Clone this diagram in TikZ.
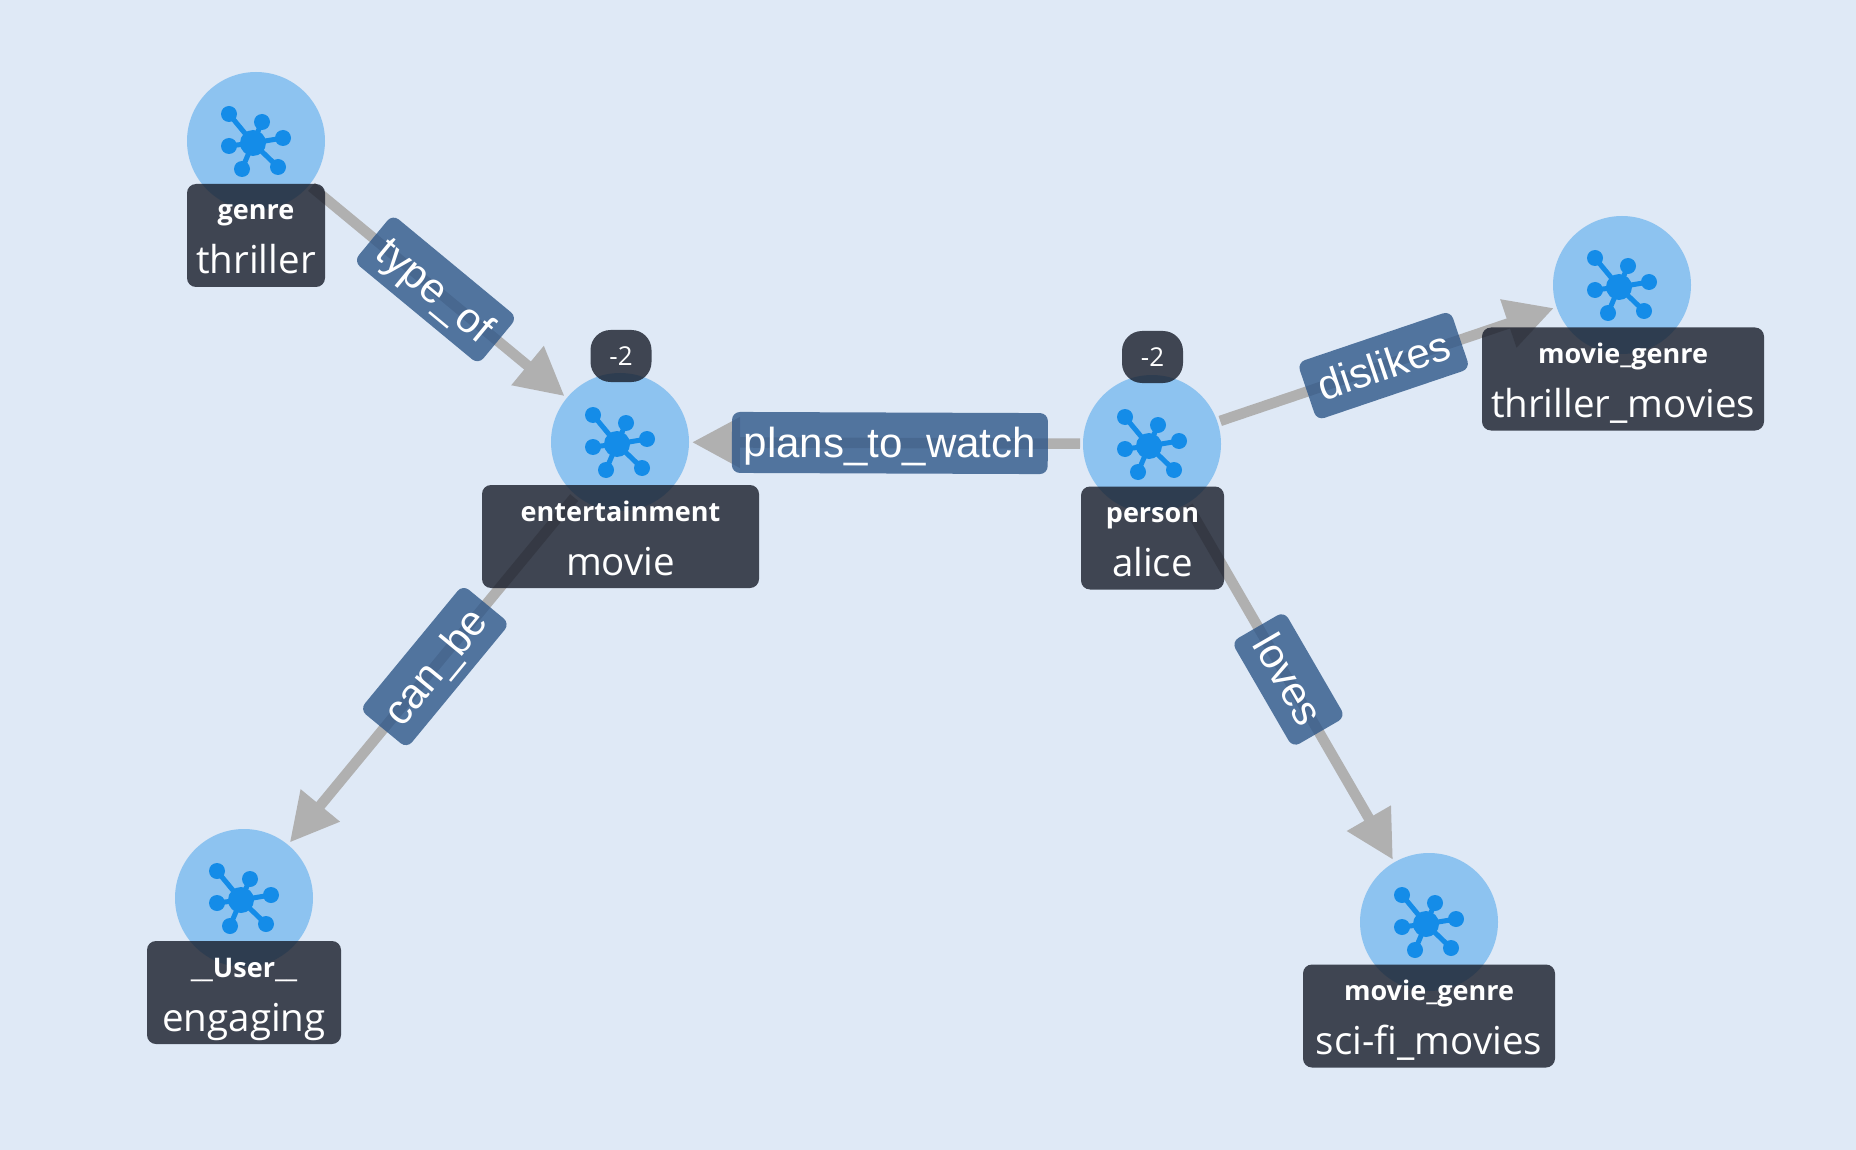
\documentclass[tikz,border=0pt]{standalone}
\usepackage{fontspec}
\setmainfont{Open Sans}
\newfontfamily\relfont{Liberation Sans}
\usetikzlibrary{arrows.meta,backgrounds}
\definecolor{pagebg}{HTML}{DFE9F6}
\definecolor{entityblue}{HTML}{8DC3F0}
\definecolor{iconblue}{HTML}{148CE8}
\definecolor{boxdark}{HTML}{171C29}
\definecolor{relblue}{HTML}{2E5789}
\definecolor{relgray}{HTML}{B0B0B0}
\newcommand{\boxtext}[2]{\rule{0pt}{36pt}{\fontsize{27}{30}\selectfont\bfseries #1}\\\rule[-13pt]{0pt}{13pt}#2}
\tikzset{
 entity/.style={circle, fill=entityblue, inner sep=0pt, outer sep=3pt, minimum size=138pt},
 entitybox/.style={rounded corners=9pt, fill=boxdark, fill opacity=0.8, text opacity=1, text=white, align=center, inner sep=0pt, minimum height=103pt, font=\fontsize{38.5}{54}\selectfont},
 badge/.style={rounded corners=20pt, fill=boxdark, fill opacity=0.8, text opacity=1, text=white, inner sep=0pt, minimum width=61pt, minimum height=52pt, font=\fontsize{26}{30}\selectfont},
 relline/.style={draw=relgray, line width=10.5pt, -{Triangle[length=48pt,width=48pt]}},
 relation/.style={pos=0.49, sloped, rounded corners=8pt, fill=relblue, fill opacity=0.8, text opacity=1, text=white, inner xsep=12pt, inner ysep=0pt, text height=45pt, text depth=16pt, font=\relfont\fontsize{42}{46}\selectfont},
 hubicon/.pic={
  \fill[iconblue] (-3,2) circle (13);
  \foreach \x/\y in {-27/-27, 6/-19, 27/-3, -27/5, -14/28, 22/26} {
   \draw[iconblue, line width=5pt] (-3,2) -- (\x,\y);
   \fill[iconblue] (\x,\y) circle (8);
  }
 }
}
\begin{document}
\begin{tikzpicture}[x=1pt, y=-1pt]
 \useasboundingbox (0,0) rectangle (1856,1150);
 % entities
 \node (genre) [entity] at (256,141) {};
 \node (entertainment) [entity] at (620,442) {};
 \node (person) [entity] at (1152,444) {};
 \node (thrillermovies) [entity] at (1622,285) {};
 \node (scifimovies) [entity] at (1429,922) {};
 \node (user) [entity] at (244,898) {};
 \pic at (genre) {hubicon};
 \pic at (entertainment) {hubicon};
 \pic at (person) {hubicon};
 \pic at (thrillermovies) {hubicon};
 \pic at (scifimovies) {hubicon};
 \pic at (user) {hubicon};
 % labels
 \node (genrebox) [entitybox, minimum width=138pt] at (256,235.5) {\boxtext{genre}{thriller}};
 \node (entertainmentbox) [entitybox, minimum width=277pt] at (620.5,536.5) {\boxtext{entertainment}{movie}};
 \node (personbox) [entitybox, minimum width=143pt] at (1152.5,538) {\boxtext{person}{alice}};
 \node (thrillermoviesbox) [entitybox, minimum width=282pt] at (1623,379) {\boxtext{movie\_genre}{thriller\_movies}};
 \node (scifimoviesbox) [entitybox, minimum width=252pt] at (1429,1016) {\boxtext{movie\_genre}{sci-fi\_movies}};
 \node (userbox) [entitybox, minimum width=194pt] at (244,992.5) {\boxtext{\_\_User\_\_}{engaging}};
 \node (entertainmentbadge) [badge] at (621,356) {-2};
 \node (personbadge) [badge] at (1152.5,357) {-2};
 % relations
 \begin{scope}[on background layer]
 \fill[pagebg] (0,0) rectangle (1856,1150);
 \draw[relline] (genre) -- node[relation] {type\_of} (entertainment);
 \draw[relline] (person) -- node[relation] {plans\_to\_watch} (entertainment);
 \draw[relline] (person) -- node[relation] {dislikes} (thrillermovies);
 \draw[relline] (person) -- node[relation] {loves} (scifimovies);
 \draw[relline] (entertainment) -- node[relation] {can\_be} (user);
 \end{scope}
\end{tikzpicture}
\end{document}
